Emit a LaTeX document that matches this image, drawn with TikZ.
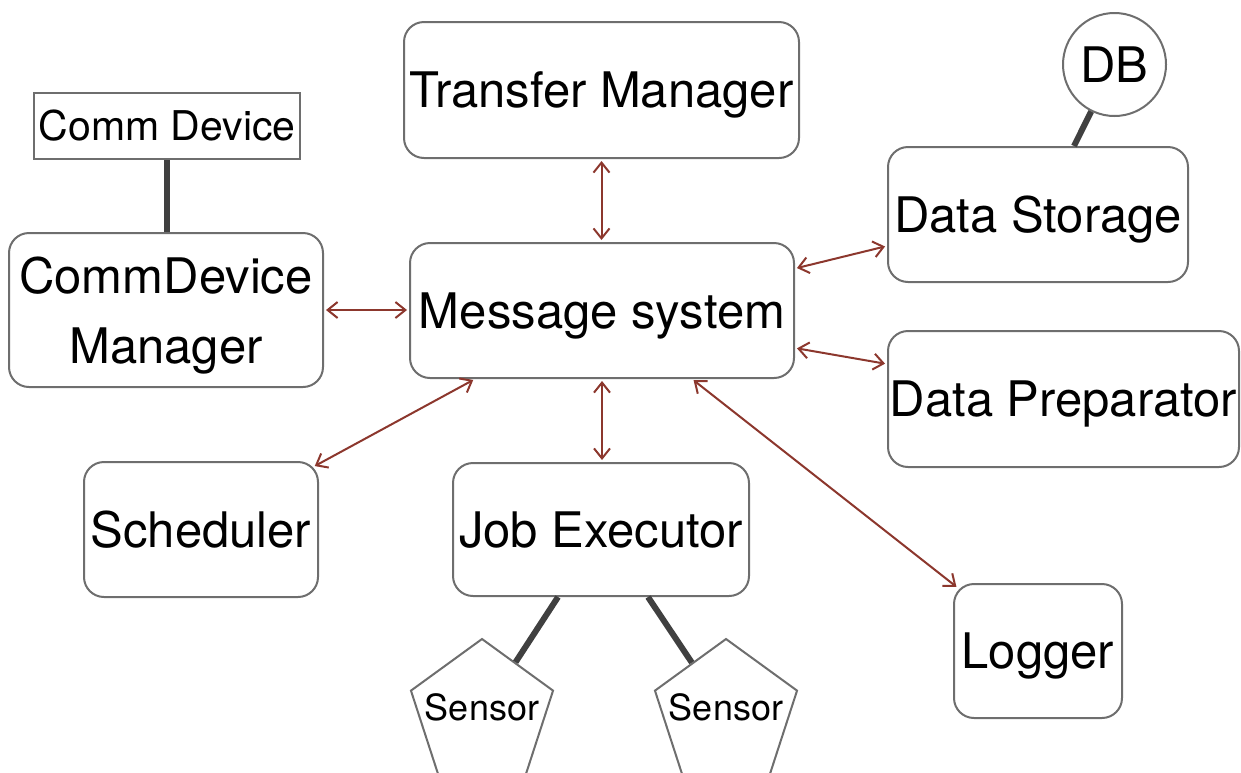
\documentclass[tikz,border=0pt]{standalone}
\usepackage{fontspec}
\setmainfont{TeX Gyre Heros}
\usetikzlibrary{arrows.meta,shapes.geometric,calc}
\definecolor{boxgray}{RGB}{110,110,110}
\definecolor{linkgray}{RGB}{64,64,64}
\definecolor{arrowred}{RGB}{140,55,45}
\begin{document}
\begin{tikzpicture}[x=1pt,y=-1pt,
  box/.style={draw=boxgray, line width=2pt, rounded corners=20pt, fill=white, inner sep=0pt,
    font=\fontsize{49}{70}\selectfont, align=center, text depth=0pt},
  plainbox/.style={draw=boxgray, line width=2pt, fill=white, inner sep=0pt, font=\fontsize{41}{50}\selectfont},
  dbcircle/.style={circle, draw=boxgray, line width=2pt, fill=white, inner sep=0pt, minimum size=103pt, font=\fontsize{49}{56}\selectfont},
  sensorshape/.style={regular polygon, regular polygon sides=5, draw=boxgray, line width=2pt, fill=white, inner sep=0pt, minimum size=149.4pt},
  sensortext/.style={font=\fontsize{36}{42}\selectfont, inner sep=0pt},
  link/.style={draw=linkgray, line width=6pt},
  msg/.style={draw=arrowred, line width=2pt, {Straight Barb[length=10pt,width=16pt]}-{Straight Barb[length=10pt,width=16pt]}, shorten <=2pt, shorten >=2pt}]
\useasboundingbox (0,0) rectangle (1241,772);
\clip (0,0) rectangle (1241,772);

\node[box, minimum width=395pt, minimum height=136pt] (tm) at (601.5,90) {Transfer Manager};
\node[plainbox, minimum width=266pt, minimum height=66pt] (cd) at (167,126) {Comm Device};
\node[box, minimum width=314pt, minimum height=154pt] (cdm) at (166,310) {CommDevice\\Manager};
\node[box, minimum width=384pt, minimum height=135pt] (ms) at (602,310.5) {Message system};
\node[dbcircle] (db) at (1114.5,64.5) {DB};
\node[box, minimum width=300pt, minimum height=135pt] (ds) at (1038,214.5) {Data Storage};
\node[box, minimum width=351pt, minimum height=136pt] (dp) at (1063.5,399) {Data Preparator};
\node[box, minimum width=234pt, minimum height=135pt] (sch) at (201,529.5) {Scheduler};
\node[box, minimum width=296pt, minimum height=133pt] (je) at (601,529.5) {Job Executor};
\node[box, minimum width=168pt, minimum height=134pt] (lg) at (1038,651) {Logger};
\node[sensorshape] (s1) at (482,713.7) {};
\node[sensorshape] (s2) at (726,713.7) {};
\node[sensortext] (s1t) at ($(s1.center)+(0,-6)$) {Sensor};
\node[sensortext] (s2t) at ($(s2.center)+(0,-6)$) {Sensor};

% thick links
\draw[link] (cd.south) -- (cd.south |- cdm.north);
\draw[link] (db) -- ($(ds.north)+(36,0)$);
\draw[link] ($(je.south)+(-43,0)$) -- (s1);
\draw[link] ($(je.south)+(47,0)$) -- (s2);

% message arrows
\draw[msg] (tm.south) -- (tm.south |- ms.north);
\draw[msg] (cdm.east) -- (cdm.east -| ms.west);
\draw[msg] ($(ms.east)+(0,-42)$) -- ($(ds.west)+(0,31.5)$);
\draw[msg] ($(ms.east)+(0,37.5)$) -- ($(dp.west)+(0,-35)$);
\draw[msg] ($(ms.south)+(-127,0)$) -- ($(sch.north east)+(-6,6)$);
\draw[msg] (ms.south) -- (ms.south |- je.north);
\draw[msg] ($(ms.south)+(90,0)$) -- ($(lg.north west)+(5,5)$);
\end{tikzpicture}
\end{document}
